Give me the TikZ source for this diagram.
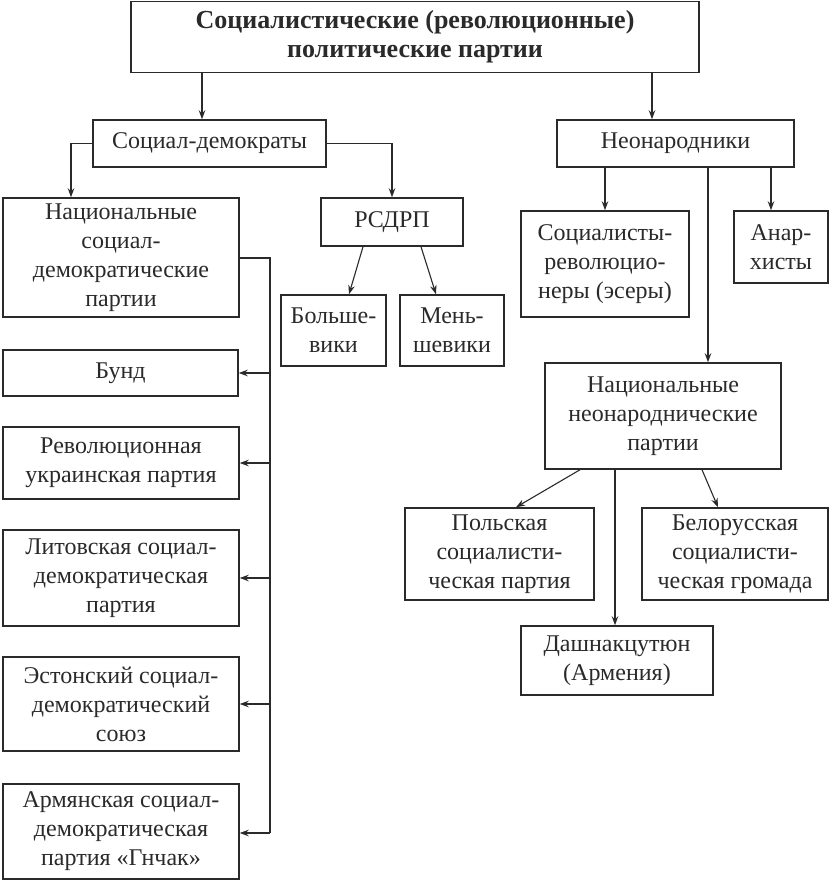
\documentclass[tikz,border=0pt]{standalone}
\usepackage{fontspec}
\setmainfont{Liberation Serif}
\usetikzlibrary{arrows.meta}
\definecolor{ink}{HTML}{2A2A2A}
\begin{document}
\begin{tikzpicture}[x=1pt,y=-1pt,
  box/.style={draw=ink, line width=1.5pt, inner sep=0pt, align=center, text=ink,
    font=\fontsize{24}{29}\selectfont},
  arr/.style={draw=ink, line width=1.1pt, -{Stealth[length=9pt,width=6.5pt]}},
  ln/.style={draw=ink, line width=1.1pt}]
\useasboundingbox[fill=white] (0,0) rectangle (830,880);
% boxes
\node[box, minimum width=568pt, minimum height=71pt, font=\bfseries\fontsize{26}{29}\selectfont] (top) at (415,37) {Социалистические (революционные)\\политические партии};
\node[box, minimum width=233pt, minimum height=47pt] (sd) at (209.5,143.5) {Социал-демократы};
\node[box, minimum width=237pt, minimum height=47pt] (neo) at (675.5,143.5) {Неонародники};
\node[box, minimum width=236pt, minimum height=119pt] (nsd) at (121,257.5) {Национальные\\социал-\\демократические\\партии};
\node[box, minimum width=142pt, minimum height=48pt] (rsdrp) at (392,222) {РСДРП};
\node[box, minimum width=105pt, minimum height=71pt] (bol) at (333.5,330.5) {Больше-\\вики};
\node[box, minimum width=104pt, minimum height=71pt] (men) at (452,330.5) {Мень-\\шевики};
\node[box, minimum width=168pt, minimum height=106pt] (ser) at (605,264) {Социалисты-\\революцио-\\неры (эсеры)};
\node[box, minimum width=94pt, minimum height=72pt] (anar) at (781,247) {Анар-\\хисты};
\node[box, minimum width=235pt, minimum height=46pt] (bund) at (120.5,373) {Бунд};
\node[box, minimum width=236pt, minimum height=72pt] (ukr) at (121,463) {Революционная\\украинская партия};
\node[box, minimum width=236pt, minimum height=96pt] (lit) at (121,578) {Литовская социал-\\демократическая\\партия};
\node[box, minimum width=236pt, minimum height=94pt] (est) at (121,704) {Эстонский социал-\\демократический\\союз};
\node[box, minimum width=236pt, minimum height=95pt] (arm) at (121,831.5) {Армянская социал-\\демократическая\\партия «Гнчак»};
\node[box, minimum width=236pt, minimum height=106pt] (nnp) at (663,416) {Национальные\\неонароднические\\партии};
\node[box, minimum width=189pt, minimum height=92pt] (pol) at (499.5,554) {Польская\\социалисти-\\ческая партия};
\node[box, minimum width=186pt, minimum height=92pt] (bel) at (735,554) {Белорусская\\социалисти-\\ческая громада};
\node[box, minimum width=192pt, minimum height=69pt] (dash) at (617,660.5) {Дашнакцутюн\\(Армения)};
% helper x positions
\coordinate (xa) at (202,0);
\coordinate (xb) at (652,0);
\coordinate (xc) at (71,0);
\coordinate (xd) at (771,0);
\coordinate (xe) at (708,0);
\coordinate (xf) at (615,0);
\coordinate (trunk) at (270,258);
\coordinate (trunkend) at (270,833);
% connectors
\draw[arr] (top.south -| xa) -- (sd.north -| xa);
\draw[arr] (top.south -| xb) -- (neo.north -| xb);
\draw[arr] (sd.west) -| (nsd.north -| xc);
\draw[arr] (sd.east) -| (rsdrp.north);
\draw[arr] ([xshift=-29pt]rsdrp.south) -- ([xshift=15.5pt]bol.north);
\draw[arr] ([xshift=29pt]rsdrp.south) -- ([xshift=-16pt]men.north);
\draw[arr] (neo.south -| ser.north) -- (ser.north);
\draw[arr] (neo.south -| xd) -- (anar.north -| xd);
\draw[arr] (neo.south -| xe) -- (nnp.north -| xe);
\draw[arr] ([xshift=-83pt]nnp.south) -- ([xshift=16.5pt]pol.north);
\draw[arr] (nnp.south -| xf) -- (dash.north -| xf);
\draw[arr] ([xshift=39pt]nnp.south) -- ([xshift=-17pt]bel.north);
\draw[ln] (nsd.east |- trunk) -- (trunk) -- (trunkend);
\draw[arr] (trunk |- bund.east) -- (bund.east);
\draw[arr] (trunk |- ukr.east) -- (ukr.east);
\draw[arr] (trunk |- lit.east) -- (lit.east);
\draw[arr] (trunk |- est.east) -- (est.east);
\draw[arr] (trunkend) -- (trunkend -| arm.east);
\end{tikzpicture}
\end{document}
